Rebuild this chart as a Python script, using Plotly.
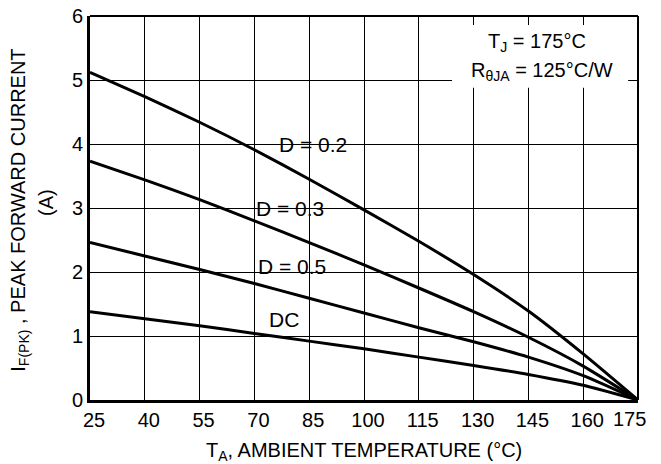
import plotly.graph_objects as go

# ---- data ----
temp_c = [25, 40, 55, 70, 85, 100, 115, 130, 145, 160, 175]
i_d02 = [5.12, 4.74, 4.34, 3.91, 3.45, 2.97, 2.48, 1.96, 1.39, 0.72, 0.0]
i_d03 = [3.73, 3.44, 3.13, 2.80, 2.46, 2.11, 1.75, 1.38, 0.98, 0.53, 0.0]
i_d05 = [2.46, 2.25, 2.04, 1.82, 1.59, 1.36, 1.13, 0.91, 0.67, 0.38, 0.0]
i_dc = [1.38, 1.27, 1.16, 1.04, 0.92, 0.80, 0.67, 0.54, 0.40, 0.23, 0.0]

series_names = ["D = 0.2", "D = 0.3", "D = 0.5", "DC"]
series_vals = [i_d02, i_d03, i_d05, i_dc]
label_x = [86.0, 79.8, 80.2, 78.0]
label_y = [4.0, 3.0, 2.08, 1.26]

x_ticks = [25, 40, 55, 70, 85, 100, 115, 130, 145, 160, 175]
x_tick_labels = ["25", "40", "55", "70", "85", "100", "115", "130", "145", "160", "175"]
y_ticks = [0, 1, 2, 3, 4, 5, 6]
y_tick_labels = ["0", "1", "2", "3", "4", "5", "6"]

FONT = "Liberation Sans, Arial, sans-serif"

fig = go.Figure()
for name, vals in zip(series_names, series_vals):
    fig.add_trace(go.Scatter(
        x=temp_c, y=vals, mode="lines", name=name,
        line=dict(color="black", width=3, shape="spline", smoothing=0.6),
        showlegend=False, hoverinfo="skip", cliponaxis=False,
    ))

annotations = []
for name, lx, ly in zip(series_names, label_x, label_y):
    annotations.append(dict(x=lx, y=ly, text=name, showarrow=False,
                            xanchor="center", yanchor="middle",
                            font=dict(family=FONT, size=21, color="black")))

# condition box text
annotations.append(dict(x=147.4, y=5.58, text="T<sub>J</sub> = 175°C", showarrow=False,
                        xanchor="center", yanchor="middle",
                        font=dict(family=FONT, size=20, color="black")))
annotations.append(dict(x=148.6, y=5.14, text="R<sub>θJA</sub> = 125°C/W", showarrow=False,
                        xanchor="center", yanchor="middle",
                        font=dict(family=FONT, size=20, color="black")))

# last x tick label drawn pulled inward as in reference
annotations.append(dict(x=x_ticks[-1], y=0, xref="x", yref="y", text=x_tick_labels[-1],
                        showarrow=False, xanchor="center", yanchor="top",
                        xshift=-9, yshift=-6,
                        font=dict(family=FONT, size=20, color="black")))

# y axis title (two lines)
annotations.append(dict(xref="paper", yref="paper", x=0, y=0.493, xshift=-70,
                        text="I<sub>F(PK)</sub> , PEAK FORWARD CURRENT", textangle=-90,
                        showarrow=False, xanchor="center", yanchor="middle",
                        font=dict(family=FONT, size=20, color="black")))
annotations.append(dict(xref="paper", yref="paper", x=0, y=0.513, xshift=-44,
                        text="(A)", textangle=-90,
                        showarrow=False, xanchor="center", yanchor="middle",
                        font=dict(family=FONT, size=20, color="black")))
# x axis title
annotations.append(dict(xref="paper", yref="paper", x=0.5, y=0, yshift=-38, borderpad=0,
                        text="T<sub>A</sub>, AMBIENT TEMPERATURE (°C)",
                        showarrow=False, xanchor="center", yanchor="top",
                        font=dict(family=FONT, size=20, color="black")))

shapes = [
    dict(type="rect", xref="x", yref="y", x0=124.1, x1=172.3, y0=4.88, y1=5.86,
         fillcolor="white", line=dict(width=0), layer="above"),
    dict(type="line", xref="paper", yref="paper", x0=0, x1=1, y0=1, y1=1,
         line=dict(color="black", width=2), layer="above"),
    dict(type="line", xref="paper", yref="paper", x0=1, x1=1, y0=0, y1=1,
         line=dict(color="black", width=2), layer="above"),
]

fig.update_layout(
    width=661, height=464,
    margin=dict(l=90, r=23, t=16, b=64, autoexpand=False),
    paper_bgcolor="white", plot_bgcolor="white",
    font=dict(family=FONT, size=20, color="black"),
    annotations=annotations, shapes=shapes,
    xaxis=dict(range=[25, 175], tickmode="array", tickvals=x_ticks,
               ticktext=x_tick_labels[:-1] + [""],
               showgrid=True, gridcolor="black", gridwidth=1,
               showline=True, linecolor="black", linewidth=3,
               zeroline=False, ticks="", ticklabelshift=4, automargin=False,
               ticklabeloverflow="allow",
               tickfont=dict(family=FONT, size=20, color="black")),
    yaxis=dict(range=[0, 6], tickmode="array", tickvals=y_ticks, ticktext=y_tick_labels,
               showgrid=True, gridcolor="black", gridwidth=1,
               showline=True, linecolor="black", linewidth=3,
               zeroline=False, ticks="", automargin=False,
               ticklabeloverflow="allow",
               tickfont=dict(family=FONT, size=20, color="black")),
)

# remove the browser's default page margin so the 661x464 figure fills the window
fig.write_html("out.html", config={"displayModeBar": False},
               post_script="document.body.style.margin='0';")
